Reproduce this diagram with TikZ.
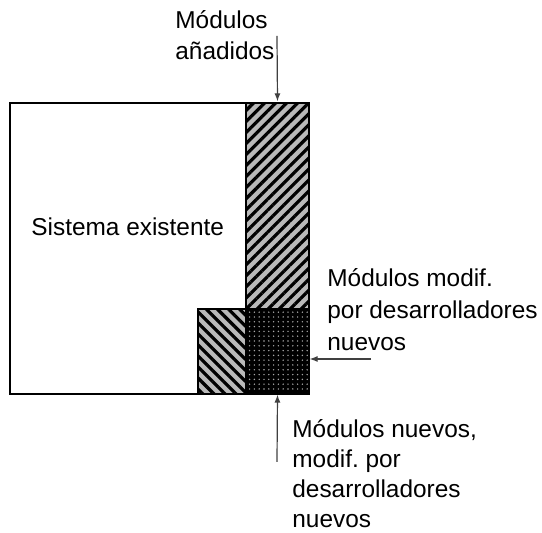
\documentclass[tikz,border=0pt]{standalone}
\usepackage{fontspec}
\setmainfont{Liberation Sans}
\usetikzlibrary{arrows.meta}
\usetikzlibrary{patterns.meta}

\begin{document}
\frenchspacing
\begin{tikzpicture}[x=0.5pt, y=0.5pt,
        lbl/.style={anchor=base west, inner sep=0pt, align=left, font=\fontsize{12.2}{15.5}\selectfont},
        caja/.style={draw, line width=0.6pt, inner sep=0pt},
        flecha/.style={draw=black!75, line width=0.6pt, -{Latex[length=4pt,width=3pt]}}]
        \useasboundingbox (0,0) rectangle (542,533);

        \node[caja, fill=white, minimum width=149.5pt, minimum height=145.5pt] (sistema) at (159.5,284.5) {};
        \node[caja, minimum width=31.5pt, minimum height=103pt, preaction={fill=gray!55}, pattern={Lines[angle=45,distance=3.9pt,line width=1.6pt]}] (anadidos) at (277.5,327) {};
        \node[caja, minimum width=24pt, minimum height=42.5pt, preaction={fill=gray!55}, pattern={Lines[angle=-45,distance=3.9pt,line width=1.6pt]}] (viejos) at (222,181.5) {};
        \node[caja, minimum width=31.5pt, minimum height=42.5pt, preaction={fill=black}, pattern={Dots[distance=2.4pt,radius=0.4pt]}, pattern color=gray!70] (puntos) at (277.5,181.5) {};

        \node[lbl] (txtsistema) at (31,297) {Sistema existente};
        \node[lbl] (txtanadidos) at (175,473) {Módulos\\añadidos};
        \node[lbl, font=\fontsize{12.2}{16}\selectfont] (txtmodif) at (327,182) {Módulos modif.\\por desarrolladores\\nuevos};
        \node[lbl, font=\fontsize{12.2}{15}\selectfont] (txtnuevos) at (292,5) {Módulos nuevos,\\modif. por\\desarrolladores\\nuevos};

        \coordinate (cola1) at (277,497);
        \coordinate (cola2) at (371,174);
        \coordinate (cola3) at (277,71);

        \draw[flecha] (cola1) -- (anadidos.north);
        \draw[flecha] (cola2) -- (cola2 -| puntos.east);
        \draw[flecha] (cola3) -- (puntos.south);
    \end{tikzpicture}
\end{document}
